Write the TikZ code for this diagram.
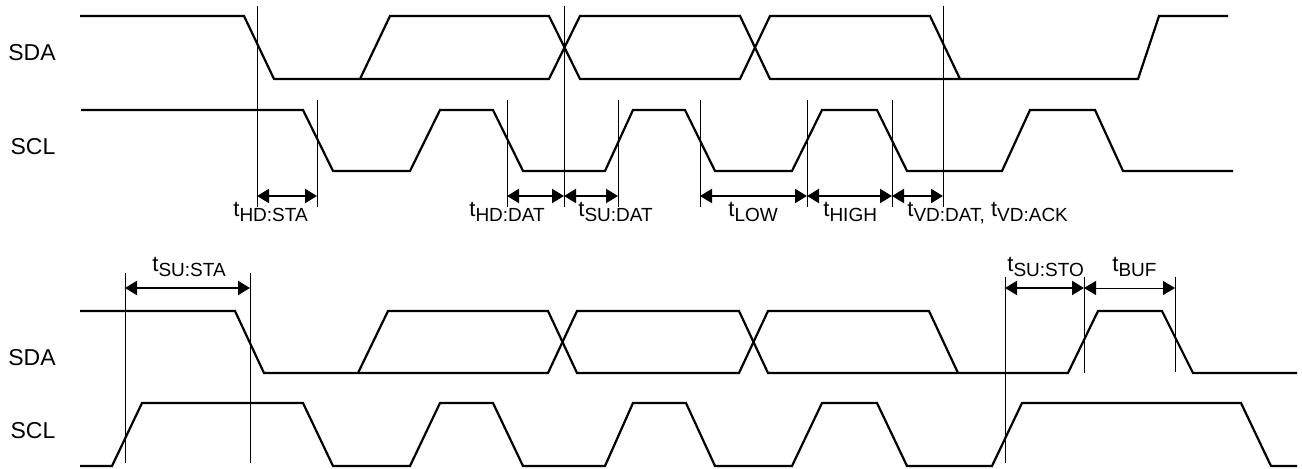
\documentclass[tikz,border=0pt]{standalone}
\usepackage{fontspec}
\setmainfont{Liberation Sans}
\usepackage{tikz}
\usetikzlibrary{arrows.meta}
\tikzset{%
       wave/.style = { line width=1.1pt, line join=miter },
      guide/.style = { line width=0.4pt },
        dim/.style = { {Triangle[length=6pt,width=7pt]}-{Triangle[length=6pt,width=7pt]}, line width=1pt },
    thindim/.style = { dim, line width=0.4pt },
     signal/.style = { font=\fontsize{11.5}{13}\selectfont, inner sep=0pt },
     tlabel/.style = { font=\fontsize{11}{12}\selectfont, inner sep=0pt, anchor=base west }
}
\newcommand{\tsub}[1]{t\raisebox{-2.5pt}{\fontsize{9.5}{10}\selectfont #1}}

\begin{document}
\begin{tikzpicture}[x=0.5pt,y=-0.5pt]
\useasboundingbox (0,0) rectangle (1302,469);
% upper diagram
\node[signal] (sdaA) at (32,53) {SDA};
\node[signal] (sclA) at (33,147) {SCL};
\draw[wave] (80,16) -- (244,16) -- (274,79) -- (549,79) -- (580,16) -- (740,16) -- (770,79) -- (1138,79) -- (1159,16) -- (1228,16);
\draw[wave] (360,79) -- (390,16) -- (549,16) -- (580,79) -- (740,79) -- (770,16) -- (930,16) -- (960,79);
\draw[wave] (81,110) -- (303,110) -- (333,171) -- (410,171) -- (440,110) -- (493,110) -- (523,171) -- (605,171) -- (633,110) -- (685,110) -- (715,171) -- (792,171) -- (822,110) -- (877,110) -- (907,171) -- (1002,171) -- (1030,110) -- (1095,110) -- (1123,171) -- (1233,171);
\foreach \n/\x/\t in {ta/257/6, tb/317/100, tc/507/100, td/564/6, te/618/100, tf/700/100, tg/807/100, th/892/100, ti/943/6}
  {\draw[guide] (\x,\t) -- (\x,207); \coordinate (\n) at (\x,196);}
\draw[dim] (ta) -- (tb);
\draw[dim] (tc) -- (td);
\draw[dim] (td) -- (te);
\draw[dim] (tf) -- (tg);
\draw[dim] (tg) -- (th);
\draw[dim] (th) -- (ti);
\node[tlabel] (hdsta) at (233,217) {\tsub{HD:STA}};
\node[tlabel] (hddat) at (469,217) {\tsub{HD:DAT}};
\node[tlabel] (sudat) at (578,217) {\tsub{SU:DAT}};
\node[tlabel] (low) at (728,217) {\tsub{LOW}};
\node[tlabel] (high) at (823,217) {\tsub{HIGH}};
\node[tlabel] (vddat) at (907,217) {\tsub{VD:DAT,} \tsub{VD:ACK}};
% lower diagram
\node[signal] (sdaB) at (32,358) {SDA};
\node[signal] (sclB) at (33,431) {SCL};
\draw[wave] (80,311) -- (235,311) -- (264,373) -- (548,373) -- (577,311) -- (739,311) -- (768,373) -- (1068,373) -- (1098,311) -- (1162,311) -- (1193,373) -- (1297,373);
\draw[wave] (358,373) -- (388,311) -- (548,311) -- (577,373) -- (739,373) -- (768,311) -- (929,311) -- (958,373);
\draw[wave] (80,466) -- (112,466) -- (142,403) -- (303,403) -- (333,466) -- (410,466) -- (440,403) -- (493,403) -- (523,466) -- (605,466) -- (633,403) -- (686,403) -- (715,466) -- (792,466) -- (822,403) -- (877,403) -- (907,466) -- (992,466) -- (1022,403) -- (1241,403) -- (1271,466) -- (1297,466);
\foreach \n/\x/\t/\b in {ba/125/273/463, bb/250/273/463, bc/1005/277/463, bd/1084/277/373, be/1175/277/372}
  {\draw[guide] (\x,\t) -- (\x,\b); \coordinate (\n) at (\x,288);}
\draw[dim] (ba) -- (bb);
\draw[dim] (bc) -- (bd);
\draw[thindim] (bd) -- (be);
\node[tlabel] (susta) at (152,272) {\tsub{SU:STA}};
\node[tlabel] (susto) at (1007,272) {\tsub{SU:STO}};
\node[tlabel] (buf) at (1112,272) {\tsub{BUF}};
\end{tikzpicture}
\end{document}
